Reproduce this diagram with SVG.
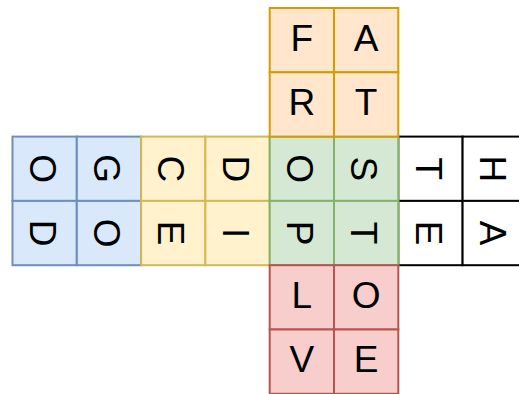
<svg xmlns="http://www.w3.org/2000/svg" width="519" height="394" viewBox="0 0 519 394">
<style>
rect{stroke-width:2}
.w rect{fill:#ffffff;stroke:#000000}
.b rect{fill:#dae8fc;stroke:#6c8ebf}
.y rect{fill:#fff2cc;stroke:#d6b656}
.g rect{fill:#d5e8d4;stroke:#82b366}
.o rect{fill:#ffe6cc;stroke:#d79b00}
.r rect{fill:#f8cecc;stroke:#b85450}
text{font-family:"Liberation Sans",Arial,sans-serif;font-size:37px;fill:#000000;text-anchor:middle}
</style>
<rect width="519" height="394" fill="#ffffff"/>
<g id="connectors"></g>
<!-- white block -->
<g id="n-6-2" class="w"><rect x="398.3" y="136.6" width="64.3" height="64.3"/><text transform="translate(430.45,168.75) rotate(90)" y="14.8">T</text></g>
<g id="n-7-2" class="w"><rect x="462.6" y="136.6" width="64.3" height="64.3"/><text transform="translate(494.75,168.75) rotate(90)" y="14.8">H</text></g>
<g id="n-6-3" class="w"><rect x="398.3" y="200.9" width="64.3" height="64.3"/><text transform="translate(430.45,233.05) rotate(90)" y="14.8">E</text></g>
<g id="n-7-3" class="w"><rect x="462.6" y="200.9" width="64.3" height="64.3"/><text transform="translate(494.75,233.05) rotate(90)" y="14.8">A</text></g>
<!-- blue block -->
<g id="n-0-2" class="b"><rect x="12.5" y="136.6" width="64.3" height="64.3"/><text transform="translate(44.65,168.75) rotate(90)" y="14.8">O</text></g>
<g id="n-1-2" class="b"><rect x="76.8" y="136.6" width="64.3" height="64.3"/><text transform="translate(108.95,168.75) rotate(90)" y="14.8">G</text></g>
<g id="n-0-3" class="b"><rect x="12.5" y="200.9" width="64.3" height="64.3"/><text transform="translate(44.65,233.05) rotate(90)" y="14.8">D</text></g>
<g id="n-1-3" class="b"><rect x="76.8" y="200.9" width="64.3" height="64.3"/><text transform="translate(108.95,233.05) rotate(90)" y="14.8">O</text></g>
<!-- yellow block -->
<g id="n-2-2" class="y"><rect x="141.1" y="136.6" width="64.3" height="64.3"/><text transform="translate(173.25,168.75) rotate(90)" y="14.8">C</text></g>
<g id="n-3-2" class="y"><rect x="205.4" y="136.6" width="64.3" height="64.3"/><text transform="translate(237.55,168.75) rotate(90)" y="14.8">D</text></g>
<g id="n-2-3" class="y"><rect x="141.1" y="200.9" width="64.3" height="64.3"/><text transform="translate(173.25,233.05) rotate(90)" y="14.8">E</text></g>
<g id="n-3-3" class="y"><rect x="205.4" y="200.9" width="64.3" height="64.3"/><text transform="translate(237.55,233.05) rotate(90)" y="14.8">I</text></g>
<!-- green block -->
<g id="n-4-2" class="g"><rect x="269.7" y="136.6" width="64.3" height="64.3"/><text transform="translate(301.85,168.75) rotate(90)" y="14.8">O</text></g>
<g id="n-5-2" class="g"><rect x="334" y="136.6" width="64.3" height="64.3"/><text transform="translate(366.15,168.75) rotate(90)" y="14.8">S</text></g>
<g id="n-4-3" class="g"><rect x="269.7" y="200.9" width="64.3" height="64.3"/><text transform="translate(301.85,233.05) rotate(90)" y="14.8">P</text></g>
<g id="n-5-3" class="g"><rect x="334" y="200.9" width="64.3" height="64.3"/><text transform="translate(366.15,233.05) rotate(90)" y="14.8">T</text></g>
<!-- orange block -->
<g id="n-4-0" class="o"><rect x="269.7" y="8" width="64.3" height="64.3"/><text x="301.85" y="50.9">F</text></g>
<g id="n-5-0" class="o"><rect x="334" y="8" width="64.3" height="64.3"/><text x="366.15" y="50.9">A</text></g>
<g id="n-4-1" class="o"><rect x="269.7" y="72.3" width="64.3" height="64.3"/><text x="301.85" y="115.2">R</text></g>
<g id="n-5-1" class="o"><rect x="334" y="72.3" width="64.3" height="64.3"/><text x="366.15" y="115.2">T</text></g>
<!-- red block -->
<g id="n-4-4" class="r"><rect x="269.7" y="265.2" width="64.3" height="64.3"/><text x="301.85" y="308.1">L</text></g>
<g id="n-5-4" class="r"><rect x="334" y="265.2" width="64.3" height="64.3"/><text x="366.15" y="308.1">O</text></g>
<g id="n-4-5" class="r"><rect x="269.7" y="329.5" width="64.3" height="64.3"/><text x="301.85" y="372.4">V</text></g>
<g id="n-5-5" class="r"><rect x="334" y="329.5" width="64.3" height="64.3"/><text x="366.15" y="372.4">E</text></g>
</svg>
